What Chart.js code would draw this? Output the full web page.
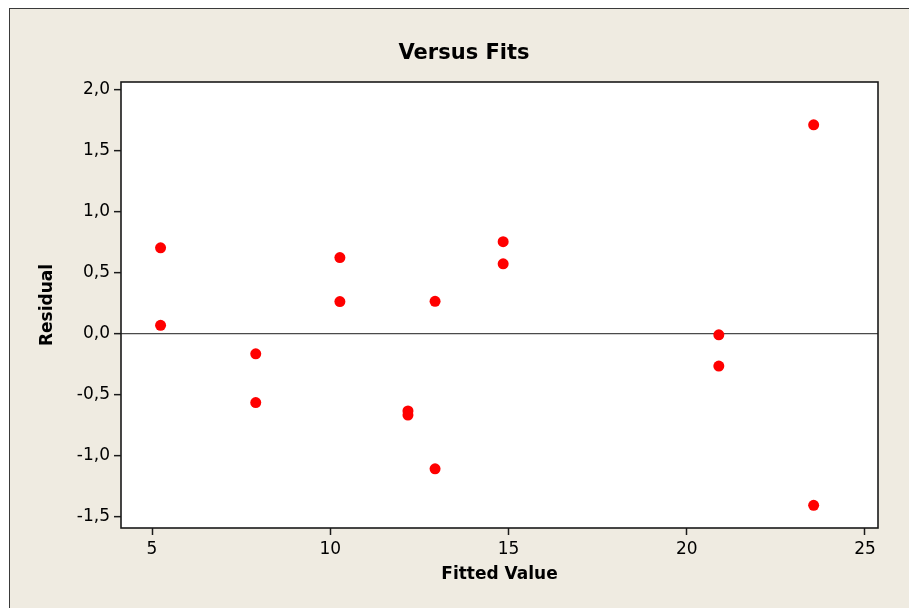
<!DOCTYPE html>
<html lang="en">
<head>
  <meta charset="UTF-8">
  <title>Versus Fits</title>
  <script src="https://cdn.jsdelivr.net/npm/chart.js"></script>
  <style>
    html, body {
      margin: 0;
      padding: 0;
      background: #ffffff;
      overflow: hidden;
    }
    #frame {
      position: absolute;
      left: 9px;
      top: 8px;
      width: 920px;
      height: 620px;
      background: #efebe1;
      border-left: 1px solid #3a3a3a;
      border-top: 1px solid #3a3a3a;
    }
    #plot {
      position: absolute;
      left: 0;
      top: 0;
    }
  </style>
</head>
<body>
  <div id="frame"></div>
  <canvas id="plot" width="909" height="608"></canvas>

  <script>
    // residuals vs fitted values
    const fittedValues = [5.24, 5.24, 7.91, 7.91, 10.27, 10.27, 12.18, 12.18,
                          12.94, 12.94, 14.85, 14.85, 20.90, 20.90, 23.56, 23.56];
    const residuals = [0.707, 0.071, -0.162, -0.562, 0.627, 0.266, -0.631, -0.664,
                       0.268, -1.105, 0.757, 0.576, -0.006, -0.263, 1.715, -1.404];
    const xTicks = [5, 10, 15, 20, 25];
    const yTicks = [-1.5, -1.0, -0.5, 0.0, 0.5, 1.0, 1.5, 2.0];

    const points = fittedValues.map((x, i) => ({ x: x, y: residuals[i] }));

    const tickFont = { family: 'DejaVu Sans', size: 17 };
    const titleFont = { family: 'DejaVu Sans', size: 17, weight: 'bold' };

    // white plot area + black box around it
    const plotBox = {
      id: 'plotBox',
      beforeDraw(chart) {
        const a = chart.chartArea;
        const ctx = chart.ctx;
        ctx.save();
        ctx.fillStyle = '#ffffff';
        ctx.fillRect(a.left, a.top, a.right - a.left, a.bottom - a.top);
        ctx.restore();
      },
      afterDraw(chart) {
        const a = chart.chartArea;
        const ctx = chart.ctx;
        ctx.save();
        ctx.strokeStyle = '#1a1a1a';
        ctx.lineWidth = 1.6;
        ctx.strokeRect(a.left, a.top, a.right - a.left, a.bottom - a.top);
        ctx.restore();
      }
    };

    new Chart(document.getElementById('plot'), {
      type: 'scatter',
      data: {
        datasets: [{
          data: points,
          backgroundColor: '#ff0000',
          borderWidth: 0,
          pointRadius: 5.5,
          pointHoverRadius: 5.5
        }]
      },
      options: {
        responsive: false,
        animation: false,
        events: [],
        layout: { padding: { left: 50, right: 31, top: 0, bottom: 0 } },
        plugins: {
          legend: { display: false },
          tooltip: { enabled: false },
          title: {
            display: true,
            text: 'Versus Fits',
            color: '#000',
            font: { family: 'DejaVu Sans', size: 21, weight: 'bold' },
            padding: { top: 41.4, bottom: 15.4 }
          }
        },
        scales: {
          x: {
            type: 'linear',
            min: 4.13,
            max: 25.365,
            afterFit(scale) { scale.height = 80; },
            afterBuildTicks(scale) { scale.ticks = xTicks.map(v => ({ value: v })); },
            ticks: {
              color: '#000',
              font: tickFont,
              padding: 4,
              maxRotation: 0,
              callback: v => String(v)
            },
            grid: {
              drawOnChartArea: false,
              tickLength: 7,
              tickColor: '#1a1a1a',
              tickWidth: 1.5
            },
            border: { display: false },
            title: {
              display: true,
              text: 'Fitted Value',
              color: '#000',
              font: titleFont,
              padding: { bottom: 22.8 }
            }
          },
          y: {
            type: 'linear',
            min: -1.59,
            max: 2.066,
            afterFit(scale) { scale.width = 71; },
            afterBuildTicks(scale) { scale.ticks = yTicks.map(v => ({ value: v })); },
            ticks: {
              color: '#000',
              font: tickFont,
              padding: 4,
              callback: v => v.toFixed(1).replace('.', ',')
            },
            grid: {
              drawOnChartArea: true,
              color: ctx => (ctx.tick && ctx.tick.value === 0) ? '#4a4a4a' : 'rgba(0,0,0,0)',
              lineWidth: 1.3,
              tickLength: 7,
              tickColor: '#1a1a1a',
              tickWidth: 1.5
            },
            border: { display: false },
            title: {
              display: true,
              text: 'Residual',
              color: '#000',
              font: titleFont,
              padding: { top: -12.2 }
            }
          }
        }
      },
      plugins: [plotBox]
    });
  </script>
</body>
</html>
